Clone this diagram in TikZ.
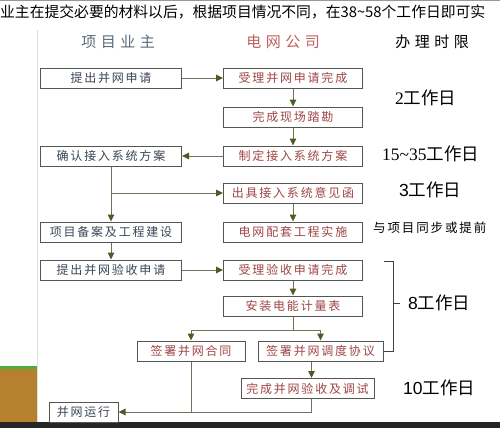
\documentclass[tikz,border=0pt]{standalone}
\usepackage{fontspec}
\setmainfont{Noto Sans CJK SC}
\newfontfamily\boxfont[LetterSpace=15]{Noto Sans CJK SC}
\newfontfamily\headfont[LetterSpace=30]{Noto Sans CJK SC}
\newfontfamily\serifnum{Liberation Serif}
\newfontfamily\sansnum{Liberation Sans}
\usetikzlibrary{arrows.meta,positioning,calc}
\definecolor{ownertext}{HTML}{3B4656}
\definecolor{gridtext}{HTML}{A04545}
\definecolor{ownerhead}{HTML}{5A6B7A}
\definecolor{gridhead}{HTML}{C06060}
\definecolor{boxline}{HTML}{555555}
\definecolor{flowline}{HTML}{6E735E}
\definecolor{tipgreen}{HTML}{4F5A26}
\definecolor{soil}{HTML}{B5812F}
\definecolor{grass}{HTML}{4CAF3A}

\begin{document}
\begin{tikzpicture}[
    x=1pt, y=-1pt,
    box/.style={draw=boxline, line width=1pt, fill=white, minimum height=20pt, inner sep=0pt,
                align=center, font=\boxfont\fontsize{12pt}{14pt}\selectfont},
    owner/.style={box, minimum width=141pt, text=ownertext},
    utility/.style={box, minimum width=139pt, text=gridtext},
    arr/.style={-{Triangle[length=7pt, width=6.5pt, color=tipgreen]}, draw=flowline, line width=1pt},
    link/.style={draw=flowline, line width=1pt},
    head/.style={font=\headfont\fontsize{15pt}{17pt}\selectfont},
    tlbl/.style={font=\fontsize{17.5pt}{20pt}\selectfont, inner sep=0pt, anchor=west}
]
\useasboundingbox (0,0) rectangle (500,428);

% --- page backdrop ---
\fill[white] (0,0) rectangle (500,428);
\draw[black!40, line width=0.8pt] (0,0.4) -- (500,0.4);
\draw[black!12, line width=0.8pt] (37,30) -- (37,422);
\fill[soil] (0,369) rectangle (37,422);
\fill[grass] (0,366) rectangle (37,369);
\fill[black!85] (0,422) rectangle (500,428);

\node[anchor=west, inner sep=0pt, font=\fontsize{14.8pt}{17pt}\selectfont] (intro) at (0,12)
    {业主在提交必要的材料以后，根据项目情况不同，在38{\char"7E}58个工作日即可实};

% --- column heads ---
\node[head, text=ownerhead] (hOwner) at (118,42) {项目业主};
\node[head, text=gridhead]  (hGrid)  at (283,42) {电网公司};
\node[head, text=black]     (hTime)  at (432,42) {办理时限};

% --- grid company lane ---
\node[owner] (l1) at (111,78) {提出并网申请};
\node[utility, right=41pt of l1] (c1) {受理并网申请完成};
\node[utility, below=18pt of c1] (c2) {完成现场踏勘};
\node[utility, below=18pt of c2] (c3) {制定接入系统方案};
\node[utility, below=16pt of c3] (c4) {出具接入系统意见函};
\node[utility, below=18pt of c4] (c5) {电网配套工程实施};
\node[utility, below=17pt of c5] (c6) {受理验收申请完成};
\node[utility, below=15pt of c6] (c7) {安装电能计量表};
\node[box, text=gridtext, minimum width=108pt] (c8)  at (191,351)   {签署并网合同};
\node[box, text=gridtext, minimum width=125pt] (c9)  at (320.5,351) {签署并网调度协议};
\node[box, text=gridtext, minimum width=133pt] (c10) at (307.5,388.5) {完成并网验收及调试};

% --- owner lane ---
\node[owner, left=41pt of c3] (l2) {确认接入系统方案};
\node[owner, left=41pt of c5] (l3) {项目备案及工程建设};
\node[owner, left=41pt of c6] (l4) {提出并网验收申请};
\node[box, text=ownertext, minimum width=69pt] (l5) at (83.5,412) {并网运行};

% --- flow ---
\draw[arr] (l1) -- (c1);
\draw[arr] (c1) -- (c2);
\draw[arr] (c2) -- (c3);
\draw[arr] (c3) -- (l2);
\draw[arr] (l2) -- (l3);
\draw[arr] (l2 |- c4) -- (c4);
\draw[arr] (c4) -- (c5);
\draw[arr] (l3) -- (l4);
\draw[arr] (l4) -- (c6);
\draw[arr] (c6) -- (c7);
\coordinate (split) at ($(c7.south)+(0,14)$);
\draw[link] (c7) -- (split);
\draw[arr] (split) -| (c8);
\draw[arr] (split) -| (c9);
\draw[arr] ([xshift=4pt]c9.south -| c10) -- ([xshift=4pt]c10.north);
\draw[link] (c8) -- (c8 |- l5);
\draw[arr] ([xshift=4pt]c10.south) |- (l5);

% --- time limits ---
\node[tlbl] (t2)  at (395,98)  {{\serifnum 2}工作日};
\node[tlbl] (t15) at (382,154) {{\serifnum 15{\char"7E}35}工作日};
\node[tlbl] (t3)  at (399,190) {{\sansnum 3}工作日};
\node[anchor=west, inner sep=0pt, font=\boxfont\fontsize{12.5pt}{14pt}\selectfont] (tsync) at (373,228) {与项目同步或提前};
\node[tlbl] (t8)  at (408,303) {{\sansnum 8}工作日};
\node[tlbl] (t10) at (403,388) {{\sansnum 10}工作日};

\coordinate (brTop) at (393,261);
\draw[draw=black!75, line width=1pt] (384,261) -- (brTop) |- (c9.east);
\draw[draw=black!75, line width=1pt, shorten >=8pt] (brTop |- t8) -- (t8.west);

\end{tikzpicture}
\end{document}
